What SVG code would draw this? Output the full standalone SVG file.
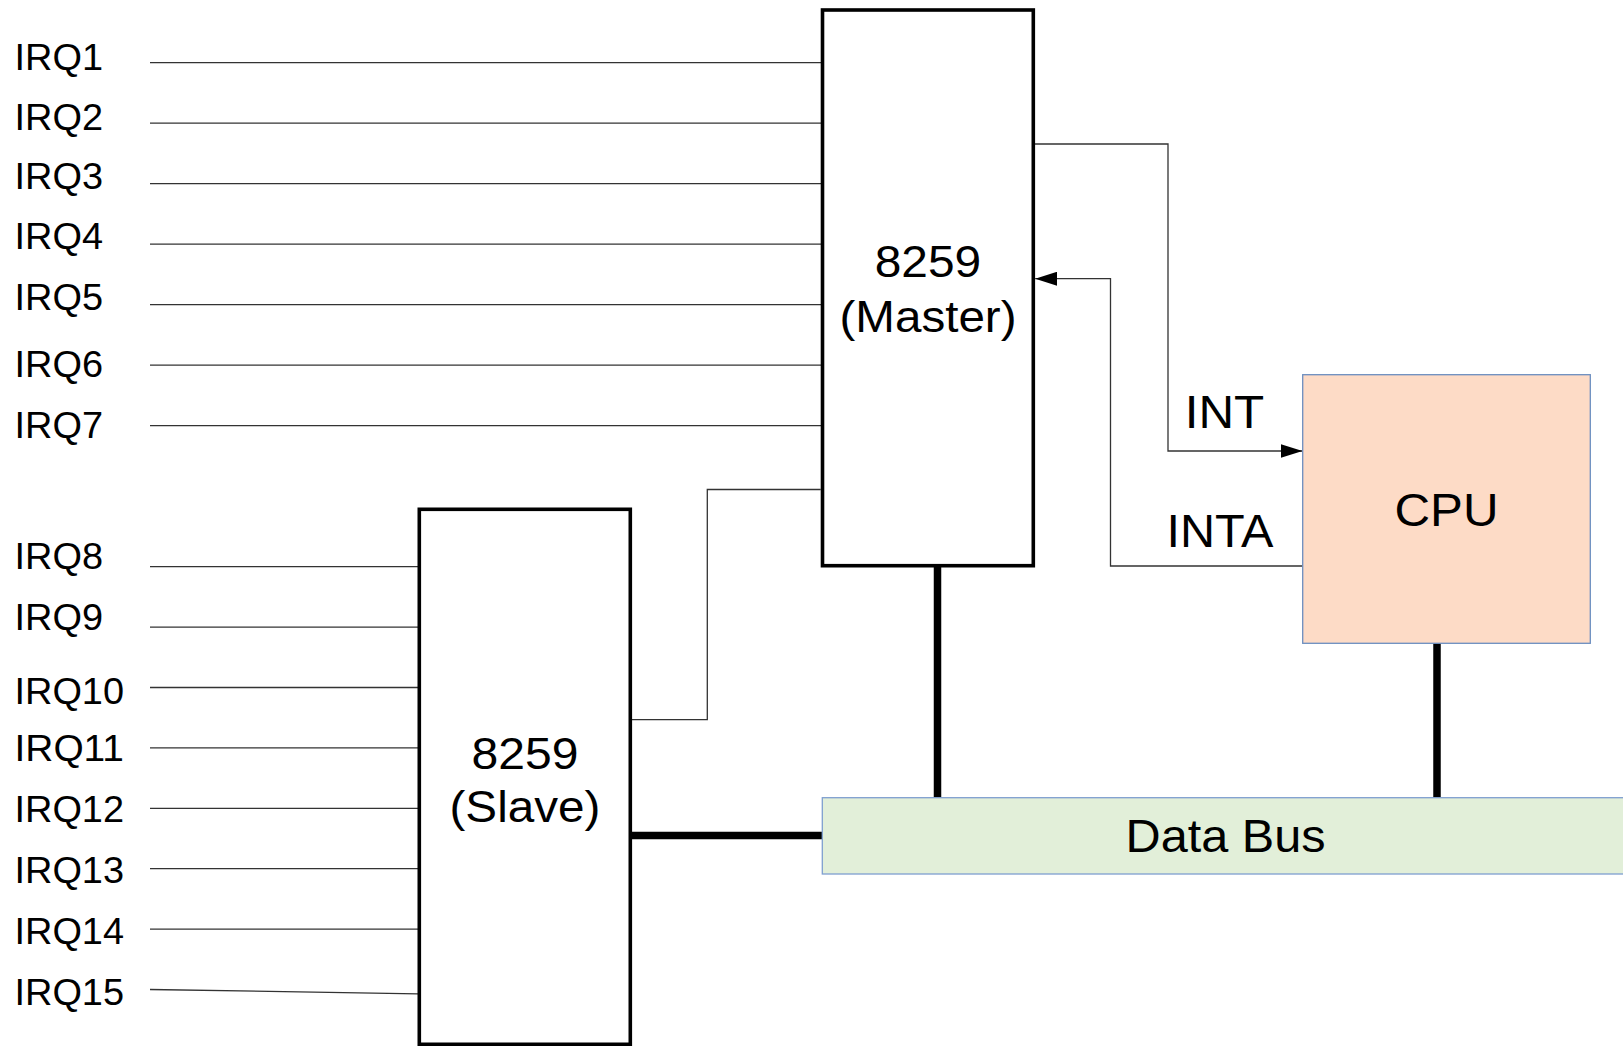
<svg xmlns="http://www.w3.org/2000/svg" width="1623" height="1046" viewBox="0 0 1623 1046">
<style>
  text { font-family: "Liberation Sans", Arial, sans-serif; fill: #000; }
  .irq { font-size: 37px; }
  .big { font-size: 44px; text-anchor: middle; }
  .sig { font-size: 45.5px; }
  .chip { fill: #fff; stroke: #000; stroke-width: 3.6; }
  .wire { fill: none; stroke: #333; stroke-width: 1.3; }
  .bus { fill: none; stroke: #000; stroke-width: 7.5; }
</style>
<defs>
  <marker id="arr" markerUnits="userSpaceOnUse" markerWidth="22" markerHeight="14" refX="22" refY="7" orient="auto">
    <path d="M0,0 L22,7 L0,14 z" fill="#000"/>
  </marker>
</defs>
<rect width="1623" height="1046" fill="#fff"/>

<g id="connectors">
  <line class="wire" x1="150" y1="62.7" x2="821" y2="62.7"/>
  <line class="wire" x1="150" y1="123.2" x2="821" y2="123.2"/>
  <line class="wire" x1="150" y1="183.7" x2="821" y2="183.7"/>
  <line class="wire" x1="150" y1="244.2" x2="821" y2="244.2"/>
  <line class="wire" x1="150" y1="304.7" x2="821" y2="304.7"/>
  <line class="wire" x1="150" y1="365.2" x2="821" y2="365.2"/>
  <line class="wire" x1="150" y1="425.7" x2="821" y2="425.7"/>
  <line class="wire" x1="150" y1="566.7" x2="418" y2="566.7"/>
  <line class="wire" x1="150" y1="627.1" x2="418" y2="627.1"/>
  <line class="wire" x1="150" y1="687.5" x2="418" y2="687.5"/>
  <line class="wire" x1="150" y1="747.9" x2="418" y2="747.9"/>
  <line class="wire" x1="150" y1="808.3" x2="418" y2="808.3"/>
  <line class="wire" x1="150" y1="868.7" x2="418" y2="868.7"/>
  <line class="wire" x1="150" y1="929.1" x2="418" y2="929.1"/>
  <line class="wire" x1="150" y1="989.5" x2="418" y2="993.8"/>
  <path class="wire" d="M820.7,489.5 H707.3 V719.7 H632"/>
  <path class="wire" d="M1035,144 H1168 V451 H1302.5" marker-end="url(#arr)"/>
  <path class="wire" d="M1302.5,566 H1110.5 V278.7 H1035.2" marker-end="url(#arr)"/>
  <line class="bus" x1="937.5" y1="566" x2="937.5" y2="798"/>
  <line class="bus" x1="1437" y1="643" x2="1437" y2="798"/>
  <line class="bus" x1="632" y1="835.5" x2="822" y2="835.5"/>
</g>

<g id="irq-labels">
  <text class="irq" x="14.5" y="70" textLength="88.5" lengthAdjust="spacingAndGlyphs">IRQ1</text>
  <text class="irq" x="14.5" y="130" textLength="88.5" lengthAdjust="spacingAndGlyphs">IRQ2</text>
  <text class="irq" x="14.5" y="188.5" textLength="88.5" lengthAdjust="spacingAndGlyphs">IRQ3</text>
  <text class="irq" x="14.5" y="249" textLength="88.5" lengthAdjust="spacingAndGlyphs">IRQ4</text>
  <text class="irq" x="14.5" y="310" textLength="88.5" lengthAdjust="spacingAndGlyphs">IRQ5</text>
  <text class="irq" x="14.5" y="376.5" textLength="88.5" lengthAdjust="spacingAndGlyphs">IRQ6</text>
  <text class="irq" x="14.5" y="437.5" textLength="88.5" lengthAdjust="spacingAndGlyphs">IRQ7</text>
  <text class="irq" x="14.5" y="569" textLength="88.5" lengthAdjust="spacingAndGlyphs">IRQ8</text>
  <text class="irq" x="14.5" y="630" textLength="88.5" lengthAdjust="spacingAndGlyphs">IRQ9</text>
  <text class="irq" x="14.5" y="704" textLength="109.5" lengthAdjust="spacingAndGlyphs">IRQ10</text>
  <text class="irq" x="14.5" y="761" textLength="109.5" lengthAdjust="spacingAndGlyphs">IRQ11</text>
  <text class="irq" x="14.5" y="822" textLength="109.5" lengthAdjust="spacingAndGlyphs">IRQ12</text>
  <text class="irq" x="14.5" y="883" textLength="109.5" lengthAdjust="spacingAndGlyphs">IRQ13</text>
  <text class="irq" x="14.5" y="944" textLength="109.5" lengthAdjust="spacingAndGlyphs">IRQ14</text>
  <text class="irq" x="14.5" y="1005" textLength="109.5" lengthAdjust="spacingAndGlyphs">IRQ15</text>
</g>

<g id="master">
  <rect class="chip" x="822.5" y="10" width="210.8" height="555.7"/>
  <text class="big" x="928" y="277.3" textLength="106.5" lengthAdjust="spacingAndGlyphs">8259</text>
  <text class="big" x="928" y="332" textLength="177" lengthAdjust="spacingAndGlyphs">(Master)</text>
</g>

<g id="slave">
  <rect class="chip" x="419.3" y="509.3" width="211" height="535"/>
  <text class="big" x="525" y="769" textLength="107" lengthAdjust="spacingAndGlyphs">8259</text>
  <text class="big" x="525" y="822" textLength="151" lengthAdjust="spacingAndGlyphs">(Slave)</text>
</g>

<g id="cpu">
  <rect x="1302.7" y="374.7" width="287.6" height="268.6" fill="#fddbc6" stroke="#6c8ebf" stroke-width="1.3"/>
  <text x="1446.5" y="526" font-size="45.6" text-anchor="middle" textLength="104" lengthAdjust="spacingAndGlyphs">CPU</text>
</g>

<g id="databus">
  <rect x="822.3" y="797.7" width="820" height="76.3" fill="#e2efd9" stroke="#7f9fcf" stroke-width="1.3"/>
  <text x="1225.6" y="851.7" font-size="45.6" text-anchor="middle" textLength="200" lengthAdjust="spacingAndGlyphs">Data Bus</text>
</g>

<g id="signal-labels">
  <text class="sig" x="1184.7" y="428.3" textLength="79.5" lengthAdjust="spacingAndGlyphs">INT</text>
  <text class="sig" x="1166.4" y="546.7" textLength="107" lengthAdjust="spacingAndGlyphs">INTA</text>
</g>
</svg>
